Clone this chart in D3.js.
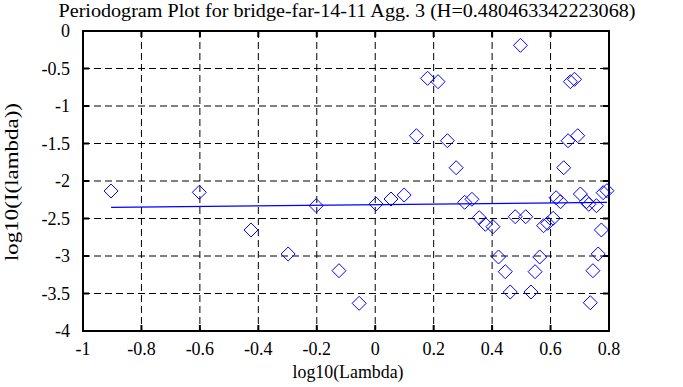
<!DOCTYPE html>
<html>
<head>
<meta charset="utf-8">
<script src="https://cdn.jsdelivr.net/npm/d3@7"></script>
<style>
  body { margin: 0; background: #fff; overflow: hidden; }
  svg { display: block; }
  text { font-family: "Liberation Serif", "DejaVu Serif", serif; fill: #000; }
</style>
</head>
<body>
<svg id="chart"></svg>
<script>
// log10(lambda) values
const logLambda = [
  -0.904, -0.602, -0.425, -0.298, -0.202, -0.124, -0.055, 0.003, 0.054, 0.099,
  0.141, 0.179, 0.215, 0.247, 0.277, 0.306, 0.331, 0.356, 0.377, 0.403,
  0.422, 0.445, 0.462, 0.479, 0.497, 0.515, 0.533, 0.547, 0.563, 0.576,
  0.590, 0.609, 0.619, 0.634, 0.645, 0.660, 0.668, 0.682, 0.693, 0.702,
  0.723, 0.731, 0.736, 0.745, 0.757, 0.763, 0.774, 0.780, 0.793
];
// log10(I(lambda)) values
const logI = [
  -2.133, -2.151, -2.653, -2.973, -2.329, -3.196, -3.631, -2.307, -2.240, -2.187,
  -1.396, -0.631, -0.676, -1.463, -1.823, -2.284, -2.244, -2.489, -2.577, -2.609,
  -3.013, -3.209, -3.480, -2.476, -0.191, -2.476, -3.480, -3.209, -3.013, -2.596,
  -2.564, -2.497, -2.223, -2.276, -1.823, -1.463, -0.676, -0.644, -1.396, -2.173,
  -2.276, -2.311, -3.623, -3.196, -2.329, -2.973, -2.653, -2.156, -2.129
];
// fitted line y = intercept + slope * x  (slope = 1 - 2H)
const H = 0.480463342223068;
const slope = 1 - 2 * H;
const intercept = -2.316;

const xTicks = [-1, -0.8, -0.6, -0.4, -0.2, 0, 0.2, 0.4, 0.6, 0.8];
const yTicks = [0, -0.5, -1, -1.5, -2, -2.5, -3, -3.5, -4];

const width = 683, height = 387;
const margin = { top: 31, right: 74, bottom: 56, left: 83 };
const innerWidth = width - margin.left - margin.right;
const innerHeight = height - margin.top - margin.bottom;

const svg = d3.select("#chart").attr("width", width).attr("height", height);
const g = svg.append("g").attr("transform", `translate(${margin.left},${margin.top})`);

const x = d3.scaleLinear().domain([-1, 0.8]).range([0, innerWidth]);
const y = d3.scaleLinear().domain([-4, 0]).range([innerHeight, 0]);

// grid dashed
g.selectAll(".vgrid").data(xTicks.slice(1, -1)).enter().append("line")
  .attr("x1", d => x(d)).attr("x2", d => x(d))
  .attr("y1", 0).attr("y2", innerHeight)
  .attr("stroke", "#000").attr("stroke-dasharray", "7,4");
g.selectAll(".hgrid").data(yTicks.slice(1, -1)).enter().append("line")
  .attr("x1", 0).attr("x2", innerWidth)
  .attr("y1", d => y(d)).attr("y2", d => y(d))
  .attr("stroke", "#000").attr("stroke-dasharray", "7,4");

// ticks on all four sides (inward)
const tickLen = 6;
xTicks.forEach(t => {
  g.append("line").attr("x1", x(t)).attr("x2", x(t)).attr("y1", innerHeight).attr("y2", innerHeight - tickLen)
    .attr("stroke", "#000").attr("stroke-width", 2);
  g.append("line").attr("x1", x(t)).attr("x2", x(t)).attr("y1", 0).attr("y2", tickLen)
    .attr("stroke", "#000").attr("stroke-width", 2);
});
yTicks.forEach(t => {
  g.append("line").attr("x1", 0).attr("x2", tickLen).attr("y1", y(t)).attr("y2", y(t))
    .attr("stroke", "#000").attr("stroke-width", 2);
  g.append("line").attr("x1", innerWidth).attr("x2", innerWidth - tickLen).attr("y1", y(t)).attr("y2", y(t))
    .attr("stroke", "#000").attr("stroke-width", 2);
});

// frame
g.append("rect").attr("width", innerWidth).attr("height", innerHeight)
  .attr("fill", "none").attr("stroke", "#000").attr("stroke-width", 2);

// tick labels (plain hyphen as in the original)
g.selectAll(".xl").data(xTicks).enter().append("text")
  .attr("x", d => x(d)).attr("y", innerHeight + 24)
  .attr("text-anchor", "middle").attr("font-family", "Liberation Serif").style("font-size", "18px")
  .text(d => String(d));
g.selectAll(".yl").data(yTicks).enter().append("text")
  .attr("x", -13).attr("y", d => y(d) + 6)
  .attr("text-anchor", "end").attr("font-family", "Liberation Serif").style("font-size", "18px")
  .text(d => String(d));

// regression line
const xExt = d3.extent(logLambda);
g.append("line")
  .attr("x1", x(xExt[0])).attr("y1", y(intercept + slope * xExt[0]))
  .attr("x2", x(xExt[1])).attr("y2", y(intercept + slope * xExt[1]))
  .attr("stroke", "#0000ff").attr("stroke-width", 1.2);

// diamonds
const pts = logLambda.map((v, i) => ({ x: v, y: logI[i] }));
const r = 7;
g.selectAll(".pt").data(pts).enter().append("path")
  .attr("d", d => {
    const cx = x(d.x), cy = y(d.y);
    return `M${cx},${cy - r}L${cx + r},${cy}L${cx},${cy + r}L${cx - r},${cy}Z`;
  })
  .attr("fill", "none").attr("stroke", "#0000ff").attr("stroke-width", 1);

// titles
svg.append("text").attr("x", margin.left + innerWidth / 2 + 1).attr("y", 17)
  .attr("text-anchor", "middle").attr("font-family", "Liberation Serif").style("font-size", "19px")
  .attr("textLength", 577).attr("lengthAdjust", "spacingAndGlyphs")
  .text("Periodogram Plot for bridge-far-14-11 Agg. 3 (H=" + H + ")");
svg.append("text").attr("x", 348).attr("y", 378)
  .attr("text-anchor", "middle").attr("font-family", "Liberation Serif").style("font-size", "18px")
  .attr("textLength", 111).attr("lengthAdjust", "spacingAndGlyphs")
  .text("log10(Lambda)");
svg.append("text")
  .attr("transform", `translate(18,182) rotate(-90)`)
  .attr("text-anchor", "middle").attr("font-family", "Liberation Serif").style("font-size", "19px")
  .attr("textLength", 158).attr("lengthAdjust", "spacingAndGlyphs")
  .text("log10(I(lambda))");
</script>
</body>
</html>
